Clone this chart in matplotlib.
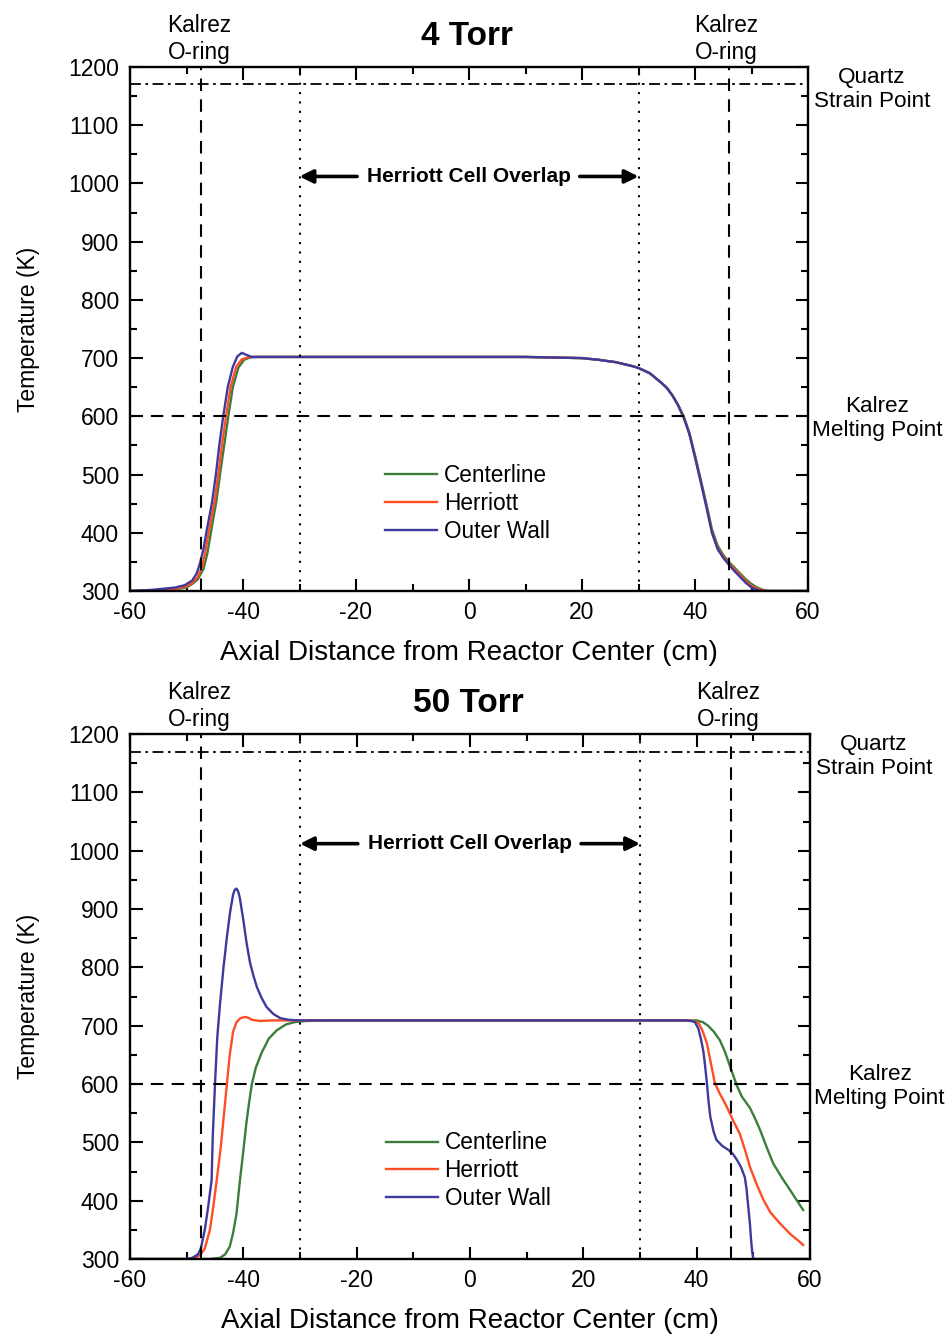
import matplotlib
matplotlib.use("Agg")
import matplotlib.pyplot as plt
from matplotlib.ticker import MultipleLocator

plt.rcParams['font.family'] = ['Liberation Sans', 'DejaVu Sans']
plt.rcParams['axes.unicode_minus'] = False

# ---------------- data ----------------
series_names = ["Centerline", "Herriott", "Outer Wall"]
panel_titles = ["4 Torr", "50 Torr"]

# 4 Torr
x4_cent = [-60, -52, -50, -49, -48, -47, -46.3, -45.6, -44.7, -44, -43.3, -42.6, -41.8, -40.8, -39.8, -38.8, -38, -36, -30, -20,
           -10, 0, 10, 15, 20, 23, 26, 29, 30, 32, 34, 35, 36, 37, 38, 39, 40, 41, 42, 43,
           44, 45, 46, 47, 48, 49, 50, 51, 52, 53, 54, 56, 60]
T4_cent = [300, 303, 306, 312, 320, 338, 365, 405, 455, 505, 552, 600, 650, 684, 697, 701, 702, 702, 702, 702,
           702, 702, 702, 701, 700, 697, 693, 686, 683, 674, 658, 649, 636, 620, 600, 572, 533, 492, 450, 406,
           378, 362, 350, 340, 330, 320, 312, 306, 302, 300, 300, 300, 300]

x4_herr = [-60, -56, -52, -50, -49, -48, -47.3, -46.7, -46, -45, -44.3, -43.7, -43, -42.2, -41.2, -40.2, -39.2, -38.5, -36, -30,
           -20, -10, 0, 10, 15, 20, 23, 26, 29, 30, 32, 34, 35, 36, 37, 38, 39, 40, 41, 42,
           43, 44, 45, 46, 47, 48, 49, 50, 51, 52, 53, 56, 60]
T4_herr = [300, 301, 304, 308, 314, 324, 340, 365, 405, 455, 505, 552, 600, 650, 685, 698, 701, 702, 702, 702,
           702, 702, 702, 702, 701, 700, 697, 693, 686, 683, 674, 658, 649, 636, 619, 598, 570, 530, 489, 447,
           402, 374, 359, 347, 337, 327, 317, 309, 304, 301, 300, 300, 300]

x4_outer = [-60, -56, -52, -50.3, -49, -48.2, -47.6, -47, -46.4, -45.5, -44.8, -44.2, -43.5, -42.7, -41.8, -41, -40.2, -39.5, -38.5, -36,
            -30, -20, -10, 0, 10, 15, 20, 23, 26, 29, 30, 32, 34, 35, 36, 37, 38, 39, 40, 41,
            42, 43, 44, 45, 46, 47, 48, 49, 50, 51, 52, 56, 60]
T4_outer = [300, 302, 306, 310, 318, 330, 348, 372, 405, 451, 500, 550, 600, 650, 685, 703, 709, 706, 702, 702,
            702, 702, 702, 702, 702, 701, 700, 697, 693, 686, 683, 674, 658, 649, 636, 619, 598, 570, 530, 488,
            445, 400, 372, 357, 345, 334, 324, 314, 306, 302, 300, 300, 300]

# 50 Torr
x50_cent = [-60, -46, -44.1, -43.2, -42.4, -41.8, -41.2, -40.6, -40, -39.5, -39, -38.5, -37.8, -36.8, -35.5, -34.1, -32.5, -31, -29, -25,
            0, 20, 40, 41.1, 42, 43, 44.1, 45, 45.9, 47.1, 48, 49.4, 50.3, 51.2, 52.3, 53.5, 55, 56.5, 57.7, 58.8]
T50_cent = [300, 300, 302, 308, 321, 345, 378, 435, 485, 530, 567, 600, 628, 653, 678, 692, 702, 706, 708, 709,
            709, 709, 709, 706, 700, 690, 675, 655, 630, 597, 578, 559, 541, 521, 493, 464, 440, 418, 400, 384]

x50_herr = [-60, -50, -48.5, -47.6, -46.8, -45.9, -45.3, -44.7, -44, -43.5, -42.9, -42.4, -41.8, -41.2, -40.5, -39.7, -39, -38.5, -37, -35,
            0, 20, 39, 40.3, 41, 41.8, 42.5, 43.2, 44, 45, 45.6, 46.5, 47.6, 48.5, 49.4, 50.5, 51.8, 53, 54.7, 56.5,
            58, 58.8]
T50_herr = [300, 300, 302, 307, 318, 350, 390, 435, 490, 540, 600, 650, 690, 706, 713, 715, 713, 710, 708, 709,
            709, 709, 709, 705, 692, 670, 636, 602, 585, 567, 555, 536, 515, 488, 458, 430, 401, 380, 361, 343,
            331, 324]

x50_outer = [-60, -52, -50, -49, -48, -47.5, -46.8, -46.2, -45.6, -45.4, -45, -44.6, -44.1, -43.5, -42.9, -42.3, -41.8, -41.5, -41.2, -40.9,
             -40.6, -40, -39.4, -38.8, -38.2, -37.6, -36.8, -35.9, -34.7, -33.5, -32, -30, -20, 0, 20, 38, 39, 39.7, 40.3, 40.8,
             41.2, 41.5, 41.8, 42.1, 42.4, 43, 43.5, 44.5, 45.6, 46.4, 47.1, 47.8, 48.5, 48.8, 49.1, 49.4, 49.6, 49.8, 50, 55,
             60]
T50_outer = [300, 300, 300, 302, 308, 318, 350, 390, 435, 509, 600, 680, 739, 800, 852, 897, 925, 933, 935, 930,
             918, 881, 840, 807, 785, 766, 748, 732, 720, 713, 710, 709, 709, 709, 709, 709, 708, 706, 695, 675,
             655, 630, 602, 570, 544, 518, 504, 494, 487, 480, 470, 458, 440, 420, 390, 360, 333, 312, 300, 300,
             300]

# reference values
oring_left, oring_right = -47.5, 46.0
overlap_left, overlap_right = -30.0, 30.0
kalrez_melt = 600
quartz_strain = 1170

colors = ["#3b7d3b", "#ff4d26", "#3c3a9c"]

panels = [
    ((x4_cent, T4_cent), (x4_herr, T4_herr), (x4_outer, T4_outer)),
    ((x50_cent, T50_cent), (x50_herr, T50_herr), (x50_outer, T50_outer)),
]

W, H = 948, 1335
fig = plt.figure(figsize=(W / 100, H / 100), dpi=100)

# axes boxes in pixels: left, top, right, bottom
boxes = [(130, 67, 808, 591), (130, 734, 810, 1259)]

for i, (box, data) in enumerate(zip(boxes, panels)):
    l, t, r, b = box
    ax = fig.add_axes([l / W, (H - b) / H, (r - l) / W, (b - t) / H])
    for (xs, ts), name, c in zip(data, series_names, colors):
        ax.plot(xs, ts, color=c, lw=1.7, label=name, solid_joinstyle='round')

    ax.set_xlim(-60, 60)
    ax.set_ylim(300, 1200)
    ax.xaxis.set_major_locator(MultipleLocator(20))
    ax.xaxis.set_minor_locator(MultipleLocator(10))
    ax.yaxis.set_major_locator(MultipleLocator(100))
    ax.yaxis.set_minor_locator(MultipleLocator(50))
    ax.tick_params(which='both', direction='in', top=True, right=True, width=1.5)
    ax.tick_params(which='major', length=9, labelsize=16.5)
    ax.tick_params(axis='y', which='major', pad=8)
    ax.tick_params(axis='x', which='major', pad=7)
    ax.tick_params(which='minor', length=5)
    for s in ax.spines.values():
        s.set_linewidth(1.7)

    # reference lines
    ax.axvline(oring_left, color='black', ls=(0, (6, 4)), lw=1.5)
    ax.axvline(oring_right, color='black', ls=(0, (6, 4)), lw=1.5)
    ax.axvline(overlap_left, color='black', ls=(0, (1, 3.5)), lw=1.5)
    ax.axvline(overlap_right, color='black', ls=(0, (1, 3.5)), lw=1.5)
    ax.axhline(kalrez_melt, color='black', ls=(0, (6, 4)), lw=1.5)
    ax.axhline(quartz_strain, color='black', ls=(0, (6, 2.5, 1.5, 2.5)), lw=1.3)

    ax.set_xlabel("Axial Distance from Reactor Center (cm)", fontsize=20, labelpad=12)
    ax.set_ylabel("Temperature (K)", fontsize=16.5, labelpad=20)

    # title
    ax.annotate(panel_titles[i], xy=(0.497, 1.0), xycoords='axes fraction',
                xytext=(0, 16), textcoords='offset points', ha='center', va='baseline',
                fontsize=24, fontweight='bold')

    # Kalrez O-ring labels above axes
    for xo in (oring_left - 0.3, oring_right - 0.5):
        ax.annotate("Kalrez\nO-ring", xy=(xo, 1.0), xycoords=('data', 'axes fraction'),
                    xytext=(0, 2.5), textcoords='offset points', ha='center', va='bottom',
                    fontsize=16.3, linespacing=1.2)

    # right-side labels
    ax.text(71.3, quartz_strain - 8, "Quartz\nStrain Point", ha='center', va='center',
            fontsize=16.2, linespacing=1.2, clip_on=False)
    ax.text(72.3, kalrez_melt - 4, "Kalrez\nMelting Point", ha='center', va='center',
            fontsize=16.2, linespacing=1.2, clip_on=False)

    # Herriott cell overlap
    ax.text(0, 1012, "Herriott Cell Overlap", ha='center', va='center', fontsize=15,
            fontweight='bold')
    ax.annotate("", xy=(overlap_left, 1012), xytext=(-19.8, 1012),
                arrowprops=dict(arrowstyle='-|>', color='black', lw=2.6, mutation_scale=20,
                                shrinkA=0, shrinkB=0))
    ax.annotate("", xy=(overlap_right, 1012), xytext=(19.6, 1012),
                arrowprops=dict(arrowstyle='-|>', color='black', lw=2.6, mutation_scale=20,
                                shrinkA=0, shrinkB=0))

    leg = ax.legend(loc='upper left', bbox_to_anchor=(0.376, 0.243), frameon=False,
                    fontsize=16.3, handlelength=2.3, handletextpad=0.3, labelspacing=0.22,
                    borderpad=0, borderaxespad=0)

fig.savefig("out.png", dpi=100)
